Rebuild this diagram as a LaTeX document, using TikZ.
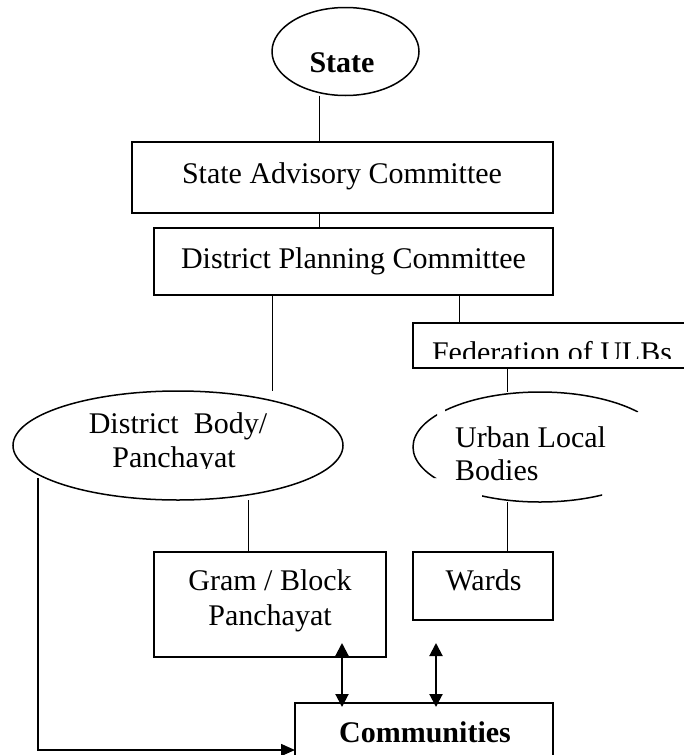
\documentclass[tikz,border=0pt]{standalone}
\usepackage{fontspec}
\setmainfont{Liberation Serif}
\usetikzlibrary{shapes.geometric,arrows.meta}
\begin{document}
\begin{tikzpicture}[x=1pt,y=-1pt,
  frame/.style={draw, line width=1.5pt, inner sep=0pt, outer sep=0pt},
  boxnode/.style={frame, rectangle},
  oval/.style={frame, ellipse},
  lbl/.style={font=\fontsize{30}{34}\selectfont, inner sep=0pt, anchor=base},
  boldlbl/.style={lbl, font=\fontsize{30}{34}\selectfont\bfseries},
  link/.style={line width=1pt},
  twoway/.style={line width=2pt, {Triangle[length=13pt,width=13pt]}-{Triangle[length=13pt,width=13pt]}},
  oneway/.style={line width=1.5pt, -{Triangle[length=14pt,width=12pt]}}
]
\useasboundingbox (0,0) rectangle (684,755);
\clip (0,0) rectangle (684,755);

% --- shapes ---
\node[oval, minimum width=147pt, minimum height=88pt] (state) at (345.5,51.5) {};
\node[boxnode, minimum width=421pt, minimum height=71pt] (sac) at (342.5,177.5) {};
\node[boxnode, minimum width=399pt, minimum height=67pt] (dpc) at (353.5,261.5) {};
\node[boxnode, minimum width=287pt, minimum height=45pt] (fed) at (556.5,345.5) {};
\node[oval, minimum width=330pt, minimum height=109pt] (db) at (178,445.5) {};
\begin{scope}
  % only parts of the urban ellipse outline are shown
  \clip (445,380) rectangle (638,412) (400,412) rectangle (437,478) (482,490) rectangle (602,510);
  \node[oval, minimum width=254pt, minimum height=110pt] (ulb) at (540,447) {};
\end{scope}
\node[boxnode, minimum width=232pt, minimum height=105pt] (gram) at (270,604.5) {};
\node[boxnode, minimum width=140pt, minimum height=68pt] (wards) at (483,586) {};
\node[boxnode, minimum width=258pt, minimum height=87pt] (comm) at (424,746.5) {};

% --- labels ---
\node[boldlbl] (statetxt) at (342,72) {State};
\node[lbl] (sactxt) at (342,183) {State Advisory Committee};
\node[lbl] (dpctxt) at (353.5,268) {District Planning Committee};
\begin{scope}
  \clip (405,330) rectangle (684,358);
  \node[lbl] (fedtxt) at (552,362) {Federation of ULBs};
\end{scope}
\node[lbl] (dbtxt) at (178,433) {District\ \ Body/};
\begin{scope}
  \clip (80,440) rectangle (280,468);
  \node[lbl] (dbtxtb) at (174,467) {Panchayat};
\end{scope}
\node[lbl, anchor=base west] (ulbtxt) at (455,447) {Urban Local};
\node[lbl, anchor=base west] (ulbtxtb) at (455,480) {Bodies};
\node[lbl] (gramtxt) at (270,590) {Gram / Block};
\node[lbl] (gramtxtb) at (270,625) {Panchayat};
\node[lbl] (wardstxt) at (483.5,590) {Wards};
\node[boldlbl] (commtxt) at (425,742) {Communities};

% --- connectors ---
\coordinate (xa) at (319,0);
\coordinate (xb) at (272,0);
\coordinate (xc) at (459,0);
\coordinate (xd) at (507,0);
\coordinate (xe) at (248,0);
\draw[link] (xa |- state.south) -- (xa |- sac.north);
\draw[link] (xa |- sac.south) -- (xa |- dpc.north);
\draw[link] (xb |- dpc.south) -- (xb |- db.north);
\draw[link] (xc |- dpc.south) -- (xc |- fed.north);
\draw[link] (xd |- fed.south) -- (xd |- ulb.north);
\draw[link] (xe |- db.south) -- (xe |- gram.north);
\draw[link] (xd |- ulb.south) -- (xd |- wards.north);

\coordinate (dbfoot) at (38,478);
\coordinate (bend) at (38,750);
\draw[oneway] (dbfoot) -- (bend) -- (bend -| comm.west);

\coordinate (ga) at (342,643);
\coordinate (wa) at (436,643);
\draw[twoway, shorten >=-4pt] (ga) -- (ga |- comm.north);
\draw[twoway, shorten >=-4pt] (wa) -- (wa |- comm.north);
\end{tikzpicture}
\end{document}
